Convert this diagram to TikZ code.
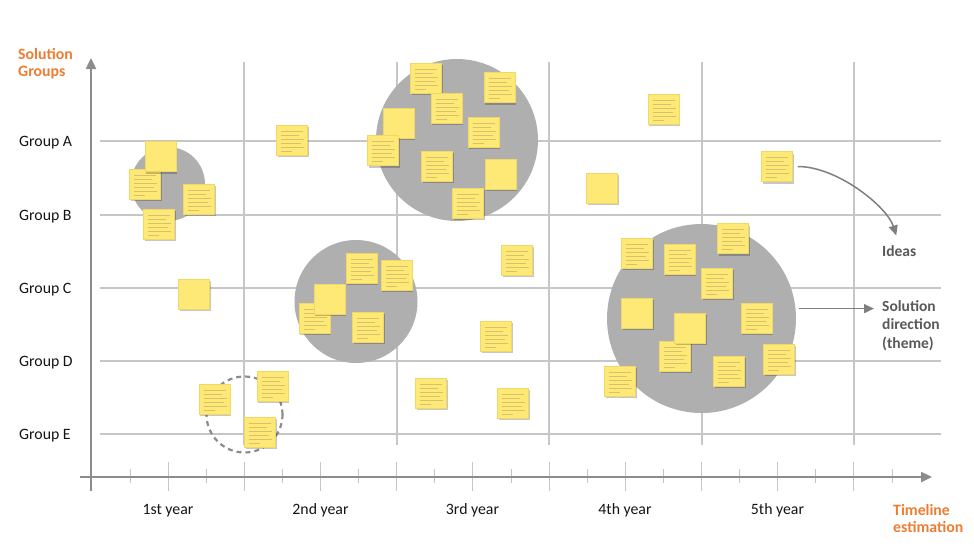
\documentclass[tikz,border=0pt]{standalone}
\usepackage{fontspec}
\setmainfont{Carlito}
\usetikzlibrary{arrows.meta,shadows}
\definecolor{orng}{HTML}{ED7D31}
\definecolor{dgray}{HTML}{595959}
\definecolor{txtc}{HTML}{141414}
\definecolor{gridc}{HTML}{C6C6C6}
\definecolor{axisc}{HTML}{8C8C8C}
\definecolor{circc}{HTML}{AFAFAF}
\definecolor{notey}{HTML}{FFE976}
\definecolor{notee}{HTML}{F0D868}
\definecolor{notel}{HTML}{D6C26C}
\definecolor{arrc}{HTML}{7F7F7F}
\begin{document}
\begin{tikzpicture}[x=1pt,y=-1pt,
  font=\fontsize{15.8}{18}\selectfont,
  gridline/.style={draw=gridc,line width=1.1pt},
  tickline/.style={draw=gridc,line width=1pt},
  axisline/.style={draw=axisc,line width=2.4pt,-{Triangle[length=11pt,width=10pt]}},
  arr/.style={draw=arrc,line width=1.5pt,-{Triangle[length=10pt,width=9pt]}},
  blob/.style={circle,fill=circc,inner sep=0pt},
  dashring/.style={circle,draw=axisc,line width=2.2pt,dash pattern=on 5pt off 4pt,inner sep=0pt},
  note/.style={rectangle,fill=notey,draw=notee,line width=0.5pt,
    minimum width=31pt,minimum height=30pt,inner sep=0pt,
    drop shadow={shadow xshift=1pt,shadow yshift=-2pt,opacity=0.22,fill=black}},
  lnote/.style={note,path picture={
    \foreach \yy/\ll in {6/22,10/18,14/23,18/20,22/23,26/11}{
      \draw[notel,line width=0.75pt] ([xshift=4.5pt,yshift=-\yy pt]path picture bounding box.north west) -- ++(\ll pt,0pt);
    }}},
  grouplab/.style={anchor=base west,inner sep=0pt,text=txtc},
  yearlab/.style={anchor=base,inner sep=0pt,text=txtc},
  orangelab/.style={anchor=north west,align=left,inner sep=0pt,text=orng,font=\fontsize{15.8}{17}\selectfont\bfseries},
  graylab/.style={anchor=north west,align=left,inner sep=0pt,text=dgray,font=\fontsize{15.5}{18.5}\selectfont\bfseries}
]
\useasboundingbox (0,0) rectangle (974,550);

% grid
\foreach \y in {141,215,288,361,434} \draw[gridline] (100,\y) -- (941,\y);
\foreach \x in {244,397,549,702,854} \draw[gridline] (\x,62) -- (\x,445);
% ticks
\foreach \i in {0,...,9} \draw[tickline] ({168+76.22*\i},462) -- ({168+76.22*\i},491);
\foreach \i in {0,...,10} \draw[tickline] ({130+76.22*\i},469) -- ({130+76.22*\i},483);
% axes
\draw[axisline] (80,477) -- (932,477);
\draw[axisline] (91,491) -- (91,58);

% clusters
\node[blob,minimum size=74pt] (cA) at (168,184) {};
\node[blob,minimum size=162pt] (cB) at (457,140) {};
\node[blob,minimum size=123pt] (cC) at (356,301.5) {};
\node[blob,minimum size=189pt] (cD) at (701.5,318.5) {};
\node[dashring,minimum size=76pt] (cE) at (244.5,414.5) {};

% notes, cluster A
\node[lnote] (n1) at (145,184) {};
\node[note] (n2) at (160.5,156.5) {};
\node[lnote] (n3) at (199,199) {};
\node[lnote] (n4) at (159,224) {};
\node[note] (n5) at (194,294) {};
% dashed group
\node[lnote] (n6) at (214.5,399) {};
\node[lnote] (n7) at (272.5,386) {};
\node[lnote] (n8) at (260,432) {};
\node[lnote] (n9) at (292,140) {};
% cluster B
\node[lnote] (n10) at (426,78) {};
\node[lnote] (n11) at (499.5,87.5) {};
\node[lnote] (n12) at (446.5,108) {};
\node[note] (n13) at (398.5,123) {};
\node[lnote] (n14) at (383,150.5) {};
\node[lnote] (n15) at (483.5,132) {};
\node[lnote] (n16) at (437,166) {};
\node[note] (n17) at (500.5,174) {};
\node[lnote] (n18) at (468,203) {};
% cluster C
\node[lnote] (n19) at (361.5,268) {};
\node[lnote] (n20) at (396.5,275) {};
\node[lnote] (n21) at (314.5,318) {};
\node[note] (n22) at (329.5,299) {};
\node[lnote] (n23) at (368,327) {};
% loose
\node[lnote] (n24) at (517,260) {};
\node[lnote] (n25) at (496,336) {};
\node[lnote] (n26) at (431,393) {};
\node[lnote] (n27) at (513,403) {};
\node[lnote] (n28) at (663.5,109) {};
\node[note] (n29) at (602,188) {};
\node[lnote] (n30) at (777,166.5) {};
% cluster D
\node[lnote] (n31) at (637,253) {};
\node[lnote] (n32) at (679.5,259) {};
\node[lnote] (n33) at (733,238.5) {};
\node[lnote] (n34) at (717,283) {};
\node[note] (n35) at (637,313) {};
\node[lnote] (n36) at (756.5,318) {};
\node[lnote] (n37) at (675,356) {};
\node[note] (n38) at (690,328) {};
\node[lnote] (n39) at (729,371) {};
\node[lnote] (n40) at (779,359) {};
\node[lnote] (n41) at (620,381) {};

% labels
\node[orangelab] (ylab) at (18,48.5) {Solution\\Groups};
\node[grouplab] (gA) at (19,146.5) {Group A};
\node[grouplab] (gB) at (19,220.5) {Group B};
\node[grouplab] (gC) at (19,293.5) {Group C};
\node[grouplab] (gD) at (19,366.5) {Group D};
\node[grouplab] (gE) at (19,439.5) {Group E};
\node[yearlab] (y1) at (168,514.5) {1st year};
\node[yearlab] (y2) at (320.5,514.5) {2nd year};
\node[yearlab] (y3) at (472.5,514.5) {3rd year};
\node[yearlab] (y4) at (625,514.5) {4th year};
\node[yearlab] (y5) at (777.5,514.5) {5th year};
\node[orangelab] (xlab) at (893,504) {Timeline\\estimation};
\node[graylab] (ideas) at (882,245) {Ideas};
\node[graylab] (soldir) at (882,300) {Solution\\direction\\(theme)};

% connectors
\draw[arr,shorten <=5pt,shorten >=10pt] (n30.east) .. controls +(45,0) and +(-12,-38) .. (ideas.north);
\draw[arr,shorten <=3pt,shorten >=8pt] (cD.6) -- (cD.6 -| soldir.west);
\end{tikzpicture}
\end{document}
